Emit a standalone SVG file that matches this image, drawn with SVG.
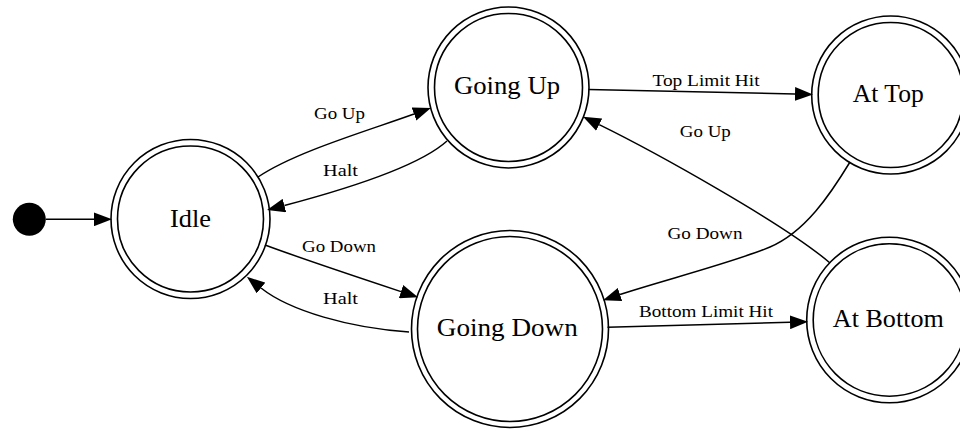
<svg xmlns="http://www.w3.org/2000/svg" width="960" height="431" viewBox="0 0 960 431">
<style>
.ring{fill:none;stroke:#000;stroke-width:1.6}
.edge{fill:none;stroke:#000;stroke-width:1.5}
.nl{font-family:"Liberation Serif","Times New Roman",serif;font-size:26px;fill:#000;text-anchor:middle}
.el{font-family:"Liberation Serif","Times New Roman",serif;font-size:17px;fill:#000;text-anchor:middle}
</style>
<defs>
<marker id="ah" markerUnits="userSpaceOnUse" markerWidth="18" markerHeight="14" viewBox="0 0 17 13" refX="0" refY="6.5" orient="auto">
<path d="M0,0 L17,6.5 L0,13 Z" fill="#000"/>
</marker>
</defs>
<rect width="960" height="431" fill="#fff"/>
<g id="edges">
<path class="edge" d="M46,219.3 L94,219.3" marker-end="url(#ah)"/>
<path class="edge" d="M258,177 C295,152 367,131 414,114" marker-end="url(#ah)"/>
<path class="edge" d="M447,141 C415,170 328,194 284.4,205.5" marker-end="url(#ah)"/>
<path class="edge" d="M265,245 C300,258 363,279 401,291.6" marker-end="url(#ah)"/>
<path class="edge" d="M409,332 C350,328 290,311 261,288" marker-end="url(#ah)"/>
<path class="edge" d="M588.5,89.5 L795,94" marker-end="url(#ah)"/>
<path class="edge" d="M830,263 C785,224 653,151 599.2,124.6" marker-end="url(#ah)"/>
<path class="edge" d="M850,162 C830,195 805,232 770,247 C735,262 658,281.7 620,294.5" marker-end="url(#ah)"/>
<path class="edge" d="M607.5,327.3 L790,322.3" marker-end="url(#ah)"/>
<text class="el" x="339.5" y="119" textLength="51" lengthAdjust="spacingAndGlyphs">Go Up</text>
<text class="el" x="340.5" y="176" textLength="35" lengthAdjust="spacingAndGlyphs">Halt</text>
<text class="el" x="339" y="252" textLength="74" lengthAdjust="spacingAndGlyphs">Go Down</text>
<text class="el" x="340.5" y="304" textLength="35" lengthAdjust="spacingAndGlyphs">Halt</text>
<text class="el" x="706" y="86" textLength="107" lengthAdjust="spacingAndGlyphs">Top Limit Hit</text>
<text class="el" x="705.3" y="137" textLength="51" lengthAdjust="spacingAndGlyphs">Go Up</text>
<text class="el" x="705" y="238.5" textLength="75" lengthAdjust="spacingAndGlyphs">Go Down</text>
<text class="el" x="706" y="317" textLength="134" lengthAdjust="spacingAndGlyphs">Bottom Limit Hit</text>
</g>
<g id="start">
<circle cx="29.3" cy="219.3" r="16.5" fill="#000"/>
</g>
<g id="idle">
<circle class="ring" cx="190.5" cy="219" r="79.5"/>
<circle class="ring" cx="190.5" cy="219" r="73"/>
<text class="nl" x="190.5" y="226.5" textLength="41" lengthAdjust="spacingAndGlyphs">Idle</text>
</g>
<g id="going-up">
<circle class="ring" cx="508.5" cy="87.5" r="80.5"/>
<circle class="ring" cx="508.5" cy="87.5" r="74"/>
<text class="nl" x="507" y="94" textLength="106" lengthAdjust="spacingAndGlyphs">Going Up</text>
</g>
<g id="going-down">
<circle class="ring" cx="510" cy="329" r="98.5"/>
<circle class="ring" cx="510" cy="329" r="92.5"/>
<text class="nl" x="507.3" y="336" textLength="141" lengthAdjust="spacingAndGlyphs">Going Down</text>
</g>
<g id="at-top">
<circle class="ring" cx="890.7" cy="95" r="79"/>
<circle class="ring" cx="890.7" cy="95" r="72.5"/>
<text class="nl" x="888.3" y="102" textLength="71" lengthAdjust="spacingAndGlyphs">At Top</text>
</g>
<g id="at-bottom">
<circle class="ring" cx="889.4" cy="320" r="82.7"/>
<circle class="ring" cx="889.4" cy="320" r="76.2"/>
<text class="nl" x="888.3" y="327" textLength="111" lengthAdjust="spacingAndGlyphs">At Bottom</text>
</g>
</svg>
